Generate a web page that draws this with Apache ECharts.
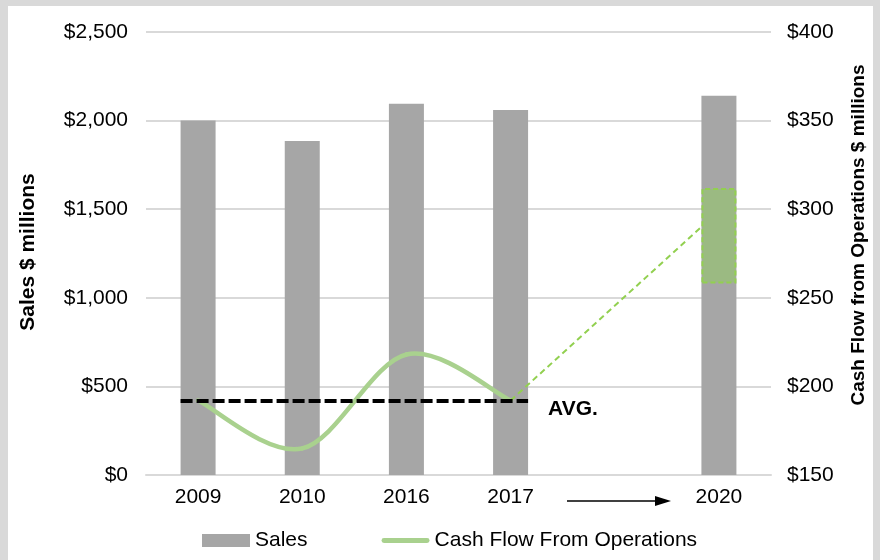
<!DOCTYPE html>
<html>
<head>
<meta charset="utf-8">
<title>Sales and Cash Flow</title>
<style>
  html, body { margin: 0; padding: 0; background: #d9d9d9; }
  #chart { position: absolute; left: 8px; top: 6px; width: 865px; height: 554px; background: #fff; }
</style>
</head>
<body>
<div id="chart"></div>
<script src="https://cdn.jsdelivr.net/npm/echarts@6/dist/echarts.min.js"></script>
<script>
// categories (blank slot between 2017 and 2020 holds the arrow)
const years = ['2009', '2010', '2016', '2017', '', '2020'];
// sales, $ millions (left axis)
const sales = [2000, 1885, 2095, 2060, '-', 2140];
// cash flow from operations, $ millions (right axis)
const cashFlow = [192, 165, 218, 192, '-', '-'];
// projection line from 2017 toward 2020
const projection = ['-', '-', '-', 192, '-', 299];
// 2020 projected range, low and high
const rangeLow = ['-', '-', '-', '-', '-', 258];
const rangeHigh = ['-', '-', '-', '-', '-', 312];
const rangeSize = rangeHigh.map((v, i) => v === '-' ? '-' : v - rangeLow[i]);

const history = cashFlow.filter(v => v !== '-');
const avg = history.reduce((a, b) => a + b, 0) / history.length;
const cashPoints = cashFlow.map((v, i) => [i, v]).filter(p => p[1] !== '-');

const font = 'Liberation Sans, Arial, sans-serif';
const money = v => '$' + v.toLocaleString('en-US');

let chart = echarts.init(document.getElementById('chart'));

chart.setOption({
    animation: false,
    textStyle: { fontFamily: font },
    grid: { left: 138, right: 102, top: 26, bottom: 85 },
    legend: {
        data: [
            { name: 'Sales', icon: 'rect' },
            { name: 'Cash Flow From Operations', icon: 'path://M2,0 H46 A2.5,2.5 0 0 1 46,5 H2 A2.5,2.5 0 0 1 2,0 Z' }
        ],
        left: 189,
        top: 519,
        itemWidth: 48,
        itemHeight: 13,
        itemGap: 74,
        textStyle: { fontSize: 21, color: '#000', fontFamily: font }
    },
    xAxis: {
        type: 'category',
        data: years,
        axisLine: { lineStyle: { color: '#d9d9d9', width: 2 } },
        axisTick: { show: false },
        axisLabel: { color: '#000', fontSize: 21, margin: 12 }
    },
    yAxis: [
        {
            type: 'value',
            min: 0, max: 2500, interval: 500,
            axisLine: { show: false },
            axisTick: { show: false },
            splitLine: { lineStyle: { color: '#d9d9d9', width: 2 } },
            axisLabel: { color: '#000', fontSize: 21, margin: 18, formatter: money }
        },
        {
            type: 'value',
            min: 150, max: 400, interval: 50,
            axisLine: { show: false },
            axisTick: { show: false },
            splitLine: { show: false },
            axisLabel: { color: '#000', fontSize: 21, margin: 16, formatter: money }
        }
    ],
    graphic: [
        {
            type: 'text', x: 20, y: 246, rotation: Math.PI / 2,
            style: { text: 'Sales $ millions', font: 'bold 21px ' + font, fill: '#000', align: 'center', verticalAlign: 'middle' }
        },
        {
            type: 'text', x: 851, y: 229, rotation: Math.PI / 2,
            style: { text: 'Cash Flow from Operations $ millions', font: 'bold 19px ' + font, fill: '#000', align: 'center', verticalAlign: 'middle' }
        },
        {
            type: 'line', shape: { x1: 559, y1: 495, x2: 650, y2: 495 },
            style: { stroke: '#000', lineWidth: 1.6 }
        },
        {
            type: 'polygon', shape: { points: [[647, 490], [663, 495], [647, 500]] },
            style: { fill: '#000' }
        }
    ],
    series: [
        {
            name: 'Sales',
            type: 'bar',
            data: sales,
            barWidth: 35,
            barGap: '-100%',
            itemStyle: { color: '#a6a6a6' }
        },
        {
            name: 'rangeBase',
            type: 'bar',
            yAxisIndex: 1,
            stack: 'range',
            data: rangeLow,
            barWidth: 35,
            barGap: '-100%',
            itemStyle: { color: 'transparent' },
            silent: true
        },
        {
            name: 'range',
            type: 'bar',
            yAxisIndex: 1,
            stack: 'range',
            data: rangeSize,
            barWidth: 35,
            barGap: '-100%',
            z: 5,
            itemStyle: { color: '#9bba82', borderColor: '#92d050', borderWidth: 2, borderType: [5, 3] }
        },
        {
            // smoothed like the spreadsheet: Catmull-Rom segments between points
            name: 'Cash Flow From Operations',
            type: 'custom',
            yAxisIndex: 1,
            z: 3,
            itemStyle: { color: '#a9d18e' },
            encode: { x: 0, y: 1 },
            data: cashPoints,
            renderItem(params, api) {
                let k = params.dataIndex;
                if (k >= cashPoints.length - 1) return;
                let pt = j => {
                    j = Math.max(0, Math.min(cashPoints.length - 1, j));
                    return api.coord(cashPoints[j]);
                };
                let p0 = pt(k - 1), p1 = pt(k), p2 = pt(k + 1), p3 = pt(k + 2);
                return {
                    type: 'bezierCurve',
                    shape: {
                        x1: p1[0], y1: p1[1], x2: p2[0], y2: p2[1],
                        cpx1: p1[0] + (p2[0] - p0[0]) / 6, cpy1: p1[1] + (p2[1] - p0[1]) / 6,
                        cpx2: p2[0] - (p3[0] - p1[0]) / 6, cpy2: p2[1] - (p3[1] - p1[1]) / 6
                    },
                    style: { stroke: '#a9d18e', lineWidth: 4.5, fill: null, lineCap: 'round' }
                };
            }
        },
        {
            name: 'projection',
            type: 'line',
            yAxisIndex: 1,
            data: projection,
            connectNulls: true,
            symbol: 'none',
            z: 3,
            lineStyle: { color: '#92d050', width: 2, type: [6, 4] }
        },
        {
            name: 'average',
            type: 'custom',
            yAxisIndex: 1,
            z: 4,
            data: [[0, history.length - 1, avg]],
            renderItem(params, api) {
                let start = api.coord([api.value(0), api.value(2)]);
                let end = api.coord([api.value(1), api.value(2)]);
                let half = api.size([1, 0])[0] * 0.168;
                return {
                    type: 'group',
                    children: [
                        {
                            type: 'line',
                            shape: { x1: start[0] - half, y1: start[1], x2: end[0] + half, y2: end[1] },
                            style: { stroke: '#000', lineWidth: 4, lineDash: [12, 4] }
                        },
                        {
                            type: 'text',
                            style: {
                                text: 'AVG.', x: end[0] + half + 20, y: end[1] + 8,
                                font: 'bold 21px ' + font, fill: '#000', verticalAlign: 'middle'
                            }
                        }
                    ]
                };
            }
        }
    ]
});
</script>
</body>
</html>
